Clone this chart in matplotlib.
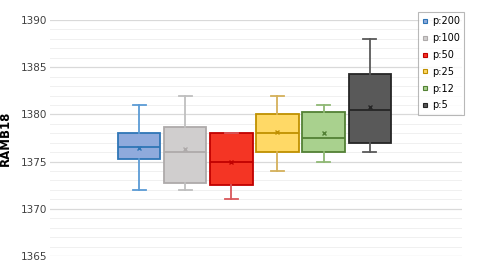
import matplotlib
matplotlib.use("Agg")
import matplotlib.pyplot as plt
from matplotlib.lines import Line2D

labels = ["p:200", "p:100", "p:50", "p:25", "p:12", "p:5"]
whislo = [1372.0, 1372.0, 1371.0, 1374.0, 1375.0, 1376.0]
q1 = [1375.3, 1372.7, 1372.5, 1376.0, 1376.0, 1377.0]
med = [1376.5, 1376.0, 1375.0, 1378.0, 1377.5, 1380.5]
q3 = [1378.0, 1378.7, 1378.0, 1380.0, 1380.25, 1384.25]
whishi = [1381.0, 1382.0, 1378.0, 1382.0, 1381.0, 1388.0]
means = [1376.4, 1376.3, 1375.0, 1378.1, 1378.0, 1380.8]

fills = ["#8faadc", "#d0cece", "#f43524", "#ffd966", "#a9d18e", "#595959"]
edges = ["#2e75b6", "#aeaaaa", "#c00000", "#bf9000", "#538135", "#262626"]
whisk = ["#5b9bd5", "#bfbfbf", "#d9575a", "#d4b05a", "#8fb874", "#595959"]

fig = plt.figure(figsize=(4.79, 2.69), dpi=100)
ax = fig.add_axes([50/479, 1-256/269, (462-50)/479, (256-20)/269])

stats = []
for i in range(len(labels)):
    stats.append(dict(med=med[i], q1=q1[i], q3=q3[i], whislo=whislo[i],
                      whishi=whishi[i], mean=means[i], fliers=[], label=labels[i]))

pos = list(range(len(labels)))
for i, s in enumerate(stats):
    ax.bxp([s], positions=[pos[i]], widths=0.92, patch_artist=True, showmeans=True,
           boxprops=dict(facecolor=fills[i], edgecolor=edges[i], linewidth=1.3),
           medianprops=dict(color=edges[i], linewidth=1.3),
           whiskerprops=dict(color=whisk[i], linewidth=1.3),
           capprops=dict(color=whisk[i], linewidth=1.3),
           capwidths=0.28,
           meanprops=dict(marker='x', markeredgecolor=edges[i], markersize=3, markeredgewidth=1))

ax.set_xlim(-1.93, 7.0)
ax.set_ylim(1365, 1390)
ax.set_yticks(range(1365, 1391, 5))
ax.set_yticks(range(1365, 1391, 1), minor=True)
ax.grid(True, which='major', axis='y', color='#d9d9d9', linewidth=0.9)
ax.grid(True, which='minor', axis='y', color='#f0f0f0', linewidth=0.7)
ax.set_axisbelow(True)
ax.set_xticks([])
ax.tick_params(axis='y', which='both', length=0, labelsize=7.5, colors='#404040', pad=2)
for sp in ax.spines.values():
    sp.set_visible(False)
ax.set_ylabel("RAMB18", fontsize=8.5, fontweight='bold')
ax.yaxis.set_label_coords((12-50)/412, 0.5)

handles = [Line2D([], [], linestyle='none', marker='s', markersize=3.5,
                  markerfacecolor=fills[i], markeredgecolor=edges[i], markeredgewidth=0.8)
           for i in range(len(labels))]
leg = fig.legend(handles, labels, loc='upper left', bbox_to_anchor=(418/479, 1-12/269),
                 fontsize=7, frameon=True, fancybox=False, edgecolor='#a6a6a6',
                 handlelength=0.6, handletextpad=0.4, borderpad=0.45, labelspacing=0.7,
                 borderaxespad=0)
leg.get_frame().set_linewidth(0.8)

fig.savefig("out.png", dpi=100)
